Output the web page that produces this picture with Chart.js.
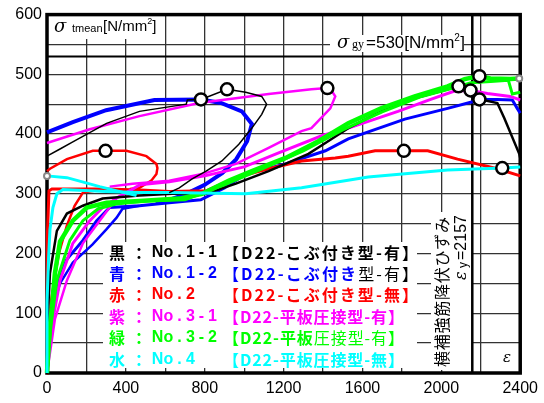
<!DOCTYPE html>
<html>
<head>
<meta charset="utf-8">
<script src="https://cdn.jsdelivr.net/npm/chart.js@4.4.1/dist/chart.umd.min.js"></script>
<style>
  html, body { margin: 0; padding: 0; background: #fff; }
  canvas { display: block; }
</style>
</head>
<body>
<canvas id="c" width="544" height="403"></canvas>
<script>
// Axis ranges and labelled ticks
const xTickLabels = [0, 400, 800, 1200, 1600, 2000, 2400];
const yTickLabels = [0, 100, 200, 300, 400, 500, 600];
const yieldStress = 530;     // σgy [N/mm²]
const yieldStrain = 2157;    // εy

// Colours of the specimens
const BLACK = '#000000', BLUE = '#0000ff', RED = '#ff0000',
      MAGENTA = '#ff00ff', GREEN = '#00ff00', CYAN = '#00ffff';

// No.1-1 (black): [strain, stress]
const black_envelope = [[0,0],[5,100],[15,167],[50,238],[101,267],[182,280],[282,292],[469,297],[635,300],[807,300],[958,317],[1124,338],[1326,367],[1412,385],[1528,410],[1694,438],[1865,460],[2032,475],[2087,480],[2168,472],[2198,458],[2284,452],[2319,427],[2395,367],[2400,360]];
const black_loop = [[0,363],[66,375],[131,387],[302,418],[469,438],[706,450],[712,457],[781,458],[913,475],[1008,470],[1089,463],[1114,450],[1089,433],[1039,410],[973,383],[887,355],[807,338],[736,325],[671,310],[620,302]];

// No.1-2 (blue)
const blue_envelope = [[0,0],[15,90],[40,140],[100,190],[182,222],[252,255],[318,277],[469,280],[620,285],[780,290],[900,310],[1008,333],[1210,350],[1412,372],[1528,392],[1815,425],[2032,443],[2168,455],[2193,458],[2284,458],[2360,457],[2385,443],[2400,435]];
const blue_reload = [[0,0],[30,110],[66,150],[131,185],[230,215],[300,240],[353,260],[383,275],[469,280]];
const blue_loop = [[0,403],[131,420],[300,440],[545,457],[781,458],[882,452],[988,438],[1039,417],[1015,388],[960,358],[890,335],[800,315],[706,300],[620,290],[550,287]];

// No.2 (red)
const red_envelope = [[0,0],[0,110],[3,227],[10,305],[25,308],[302,308],[500,306],[620,304],[807,305],[958,327],[1124,342],[1291,355],[1462,360],[1528,363],[1664,372],[1810,372],[1931,372],[2082,358],[2284,342],[2400,330]];
const red_reload = [[0,0],[20,120],[60,200],[101,247],[140,280],[182,302],[300,308]];
const red_loop = [[0,338],[15,342],[101,358],[232,372],[297,372],[403,372],[504,363],[555,350],[560,343],[555,333],[529,322],[469,310],[420,308]];

// No.3-1 (magenta)
const magenta_envelope = [[0,0],[25,80],[66,155],[131,217],[217,255],[282,277],[353,293],[403,302],[470,315],[620,320],[800,330],[1000,345],[1200,372],[1400,398],[1528,410],[1780,438],[1946,458],[2067,472],[2148,473],[2234,468],[2350,463],[2400,457]];
const magenta_reload = [[0,0],[40,90],[101,155],[182,217],[267,255],[353,293]];
const magenta_loop = [[318,312],[434,317],[620,322],[787,333],[958,350],[1124,377],[1291,405],[1341,410],[1437,443],[1462,463],[1445,472],[1422,477],[1341,475],[1124,467],[771,452],[469,430],[217,408],[0,385]];

// No.3-2 (green)
const green_envelope = [[0,0],[5,0],[15,80],[25,110],[40,167],[66,220],[131,255],[202,277],[302,285],[469,288],[671,292],[787,300],[923,322],[1039,338],[1210,360],[1376,388],[1528,418],[1694,443],[1865,463],[2032,480],[2118,492],[2193,497],[2249,493],[2350,492],[2395,493]];
const green_reload = [[0,0],[20,80],[50,155],[116,222],[182,255],[260,275],[350,283],[500,288],[700,290],[900,315],[1100,343],[1300,372],[1500,407],[1700,437],[1900,463],[2050,476],[2150,486],[2250,488],[2340,490],[2360,467],[2400,470]];

// No.4 (cyan)
const cyan_envelope = [[0,0],[0,118],[8,193],[15,240],[30,277],[50,300],[81,307],[300,304],[469,302],[620,302],[1008,300],[1291,310],[1629,328],[2032,340],[2309,343],[2400,345]];
const cyan_loop = [[0,330],[101,327],[267,312],[454,297]];

// Marked points (open circles) and gauge end points (small grey circles)
const marked_points = [[781,458],[913,475],[297,372],[1422,477],[2193,497],[2087,480],[2148,473],[2193,458],[1810,372],[2309,343]];
const end_points = [[0,330],[2395,493]];

// Legend rows
const legendRows = [
  { key: '黒', color: BLACK,   no: 'No.1-1', spec: [['【D22-こぶ付き型-有】', BLACK, 'bold']], end: 418 },
  { key: '青', color: BLUE,    no: 'No.1-2', spec: [['【D22-こぶ付き', BLUE, 'bold'], ['型-有】', BLACK, 'normal']], end: 418 },
  { key: '赤', color: RED,     no: 'No.2',   spec: [['【D22-こぶ付き型-無】', RED, 'bold']], end: 418 },
  { key: '紫', color: MAGENTA, no: 'No.3-1', spec: [['【D22-平板圧接型-有】', MAGENTA, 'bold']], end: 404 },
  { key: '緑', color: GREEN,   no: 'No.3-2', spec: [['【D22-平板', GREEN, 'bold'], ['圧接型-有】', GREEN, 'normal']], end: 404 },
  { key: '水', color: CYAN,    no: 'No.4',   spec: [['【D22-平板圧接型-無】', CYAN, 'bold']], end: 404 }
];

const pts = a => a.map(([x, y]) => ({ x, y }));
const line = (data, color, width, order) => ({
  data: pts(data), borderColor: color, borderWidth: width, showLine: true,
  pointRadius: 0, pointHoverRadius: 0, fill: false, tension: 0, clip: false, order
});

const CJK = '"Noto Sans CJK JP", sans-serif';
const LAT = '"Liberation Sans", Arial, sans-serif';

// Draws a run of coloured pieces, spreading its characters evenly between x0 and x1
function drawRun(ctx, pieces, x0, x1, y, size, family) {
  const chars = [];
  pieces.forEach(([t, c, w]) => {
    ctx.font = w + ' ' + size + 'px ' + family;
    [...t].forEach(ch => chars.push({ ch, c, f: ctx.font, w: ctx.measureText(ch).width }));
  });
  const total = chars.reduce((s, o) => s + o.w, 0);
  const gap = chars.length > 1 ? (x1 - x0 - total) / (chars.length - 1) : 0;
  let x = x0;
  ctx.textAlign = 'left';
  chars.forEach(o => {
    ctx.font = o.f; ctx.fillStyle = o.c;
    ctx.fillText(o.ch, x, y);
    x += o.w + gap;
  });
}

const decor = {
  id: 'decor',
  beforeDatasetsDraw(chart) {
    const { ctx, chartArea: a, scales: { x, y } } = chart;
    ctx.save();
    ctx.textBaseline = 'middle';

    // white panels under the annotations
    ctx.fillStyle = '#fff';
    ctx.fillRect(51, 16, 104, 23);
    ctx.fillRect(330, 35, 134, 17);
    ctx.fillRect(431, 212, 41, 158);
    ctx.fillRect(103, 242, 314, 126);

    // yield stress line
    ctx.strokeStyle = '#000';
    ctx.lineWidth = 2;
    const ys = Math.round(y.getPixelForValue(yieldStress)) + 0.5;
    ctx.beginPath(); ctx.moveTo(a.left, ys); ctx.lineTo(a.right, ys); ctx.stroke();

    // yield strain line
    const xs = x.getPixelForValue(yieldStrain);
    ctx.lineWidth = 2.5;
    ctx.beginPath(); ctx.moveTo(xs, a.top); ctx.lineTo(xs, a.bottom); ctx.stroke();

    // frame
    ctx.lineWidth = 3.5;
    ctx.strokeRect(a.left, a.top, a.right - a.left, a.bottom - a.top);

    // axis title  σ tmean [N/mm²]
    ctx.fillStyle = '#000';
    ctx.textAlign = 'left';
    ctx.font = 'italic 18px "DejaVu Serif", serif';
    ctx.fillText('σ', 54, 27);
    ctx.font = '11px ' + LAT;
    ctx.fillText('tmean', 72, 29);
    ctx.font = '15px ' + LAT;
    ctx.fillText('[N/mm', 103, 27);
    let w = ctx.measureText('[N/mm').width;
    ctx.font = '9px ' + LAT;
    ctx.fillText('2', 103 + w, 22);
    ctx.font = '15px ' + LAT;
    ctx.fillText(']', 103 + w + 5, 27);

    // σgy=530[N/mm²]
    ctx.font = 'italic 18px "DejaVu Serif", serif';
    ctx.fillText('σ', 337, 43);
    ctx.font = '12px "Liberation Serif", serif';
    ctx.fillText('gy', 352, 45);
    ctx.font = '17px ' + LAT;
    ctx.fillText('=530[N/mm', 366, 43);
    w = ctx.measureText('=530[N/mm').width;
    ctx.font = '10px ' + LAT;
    ctx.fillText('2', 366 + w, 38);
    ctx.font = '17px ' + LAT;
    ctx.fillText(']', 366 + w + 6, 43);

    // vertical notes beside the yield strain line
    ctx.save();
    ctx.translate(442, 292);
    ctx.rotate(-Math.PI / 2);
    drawRun(ctx, [['横補強筋降伏ひずみ', '#000', 'normal']], -75, 75, 0, 16, CJK);
    ctx.restore();

    ctx.save();
    ctx.translate(462, 248);
    ctx.rotate(-Math.PI / 2);
    ctx.textAlign = 'left';
    ctx.fillStyle = '#000';
    ctx.font = 'italic 16px "DejaVu Serif", serif';
    ctx.fillText('ε', -32, 0);
    ctx.font = '12px ' + LAT;
    ctx.fillText('y', -20, 2);
    ctx.font = '16px ' + LAT;
    ctx.fillText('=2157', -12, 0);
    ctx.restore();

    // strain symbol
    ctx.fillStyle = '#000';
    ctx.font = 'italic 15px "DejaVu Serif", serif';
    ctx.textAlign = 'left';
    ctx.fillText('ε', 503, 358);

    // legend
    const rowY = [253, 274, 295, 317, 338, 360];
    legendRows.forEach((r, i) => {
      const yy = rowY[i];
      ctx.textAlign = 'left';
      ctx.fillStyle = r.color;
      ctx.font = 'bold 16px ' + CJK;
      ctx.fillText(r.key, 109, yy);
      ctx.fillText('：', 131, yy);
      ctx.textAlign = 'center';
      ctx.font = 'bold 16px ' + LAT;
      [...r.no].forEach((ch, k) => ctx.fillText(ch, 157.5 + k * 11, yy));
      drawRun(ctx, r.spec, 223, r.end, yy, 16, CJK);
    });
    ctx.restore();
  }
};

const chart = new Chart(document.getElementById('c'), {
  type: 'scatter',
  data: {
    datasets: [
      { data: pts(marked_points), showLine: false, pointRadius: 6, pointBorderWidth: 2.5,
        pointBackgroundColor: '#fff', pointBorderColor: '#000', pointHoverRadius: 6, clip: false, order: 0 },
      { data: pts(end_points), showLine: false, pointRadius: 3, pointBorderWidth: 2,
        pointBackgroundColor: '#fff', pointBorderColor: '#888', pointHoverRadius: 3, clip: false, order: 1 },
      line(black_loop, BLACK, 1.5, 2),
      line(cyan_loop, CYAN, 3, 3),
      line(cyan_envelope, CYAN, 3, 4),
      line(green_envelope, GREEN, 4.5, 5),
      line(green_reload, GREEN, 3, 6),
      line(black_envelope, BLACK, 2.5, 7),
      line(magenta_loop, MAGENTA, 2.5, 8),
      line(magenta_envelope, MAGENTA, 3, 9),
      line(magenta_reload, MAGENTA, 2.5, 10),
      line(red_loop, RED, 2.5, 11),
      line(red_envelope, RED, 3, 12),
      line(red_reload, RED, 2.5, 13),
      line(blue_loop, BLUE, 4, 14),
      line(blue_envelope, BLUE, 3, 15),
      line(blue_reload, BLUE, 2.5, 16)
    ]
  },
  options: {
    responsive: false,
    animation: false,
    devicePixelRatio: 1,
    events: [],
    layout: { padding: { left: 0, top: 13, right: 21, bottom: 0 } },
    plugins: { legend: { display: false }, tooltip: { enabled: false } },
    scales: {
      x: {
        type: 'linear', min: 0, max: 2400,
        afterFit: s => { s.height = 30; },
        afterBuildTicks: s => { s.ticks = Array.from({ length: 13 }, (_, i) => ({ value: i * 200 })); },
        ticks: {
          autoSkip: false, maxRotation: 0, padding: 6, color: '#000',
          font: { family: 'Liberation Sans', size: 16 },
          callback: v => xTickLabels.includes(v) ? String(v) : ''
        },
        grid: { color: '#333', lineWidth: 1.3, drawTicks: false },
        border: { display: false }
      },
      y: {
        type: 'linear', min: 0, max: 600,
        afterFit: s => { s.width = 47; },
        afterBuildTicks: s => { s.ticks = Array.from({ length: 13 }, (_, i) => ({ value: i * 50 })); },
        ticks: {
          autoSkip: false, padding: 5, color: '#000',
          font: { family: 'Liberation Sans', size: 16 },
          callback: v => yTickLabels.includes(v) ? String(v) : ''
        },
        grid: { color: '#333', lineWidth: 1.3, drawTicks: false },
        border: { display: false }
      }
    }
  },
  plugins: [decor]
});
</script>
</body>
</html>
